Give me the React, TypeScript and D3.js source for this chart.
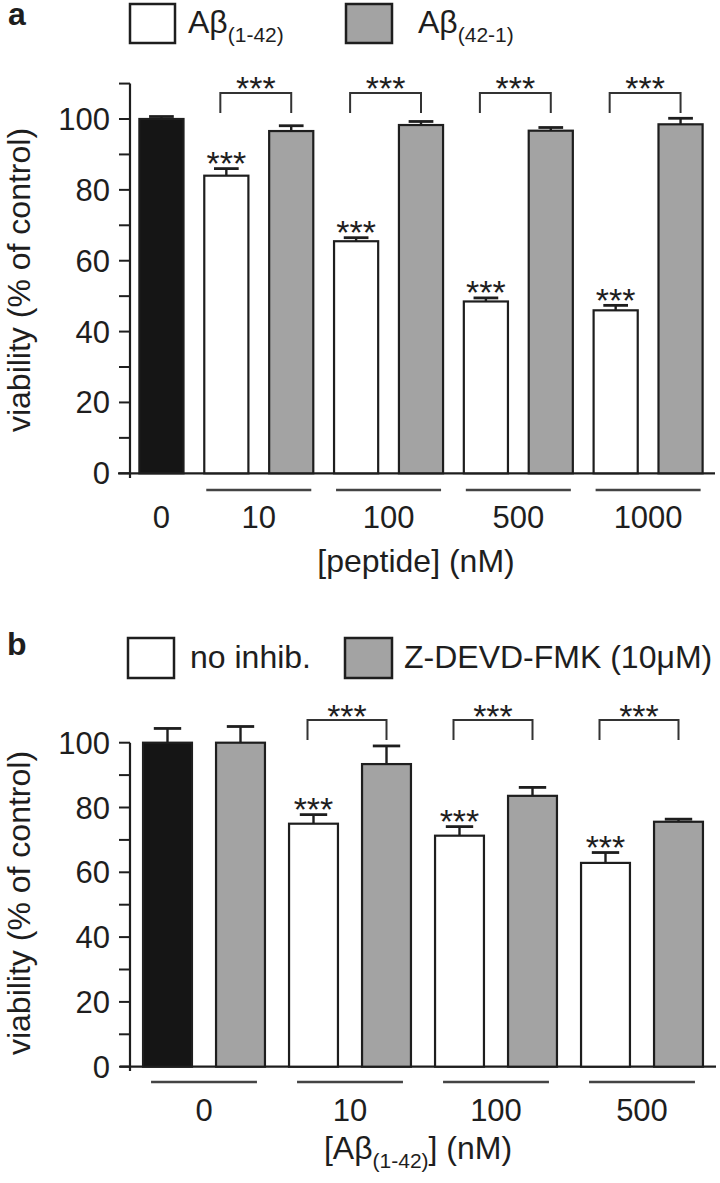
import React from 'react';
import * as d3 from 'd3';

// ---------- Panel a data ----------
const catsA = ['0', '10', '100', '500', '1000'];
const controlA = 100;
const controlSemA = 0.7;
const ab142 = [84, 65.5, 48.5, 46];
const ab142Sem = [2, 1, 1, 1.4];
const ab421 = [96.6, 98.3, 96.7, 98.5];
const ab421Sem = [1.5, 1, 0.9, 1.7];
const yTicksA = [0, 20, 40, 60, 80, 100];
const yMinorA = [10, 30, 50, 70, 90, 110];

// ---------- Panel b data ----------
const catsB = ['0', '10', '100', '500'];
const noInhib = [100, 75, 71.3, 62.9];
const noInhibSem = [4.4, 2.8, 2.8, 3.2];
const zdevd = [100, 93.4, 83.6, 75.6];
const zdevdSem = [5, 5.6, 2.6, 0.8];
const yTicksB = [0, 20, 40, 60, 80, 100];
const yMinorB = [10, 30, 50, 70, 90];

const FONT = '"Liberation Sans", Arial, Helvetica, sans-serif';
const INK = '#1e1e1e';
const GRAY = '#a3a3a3';
const BLACK = '#151515';

type Bar = { kind: 'control' | 'white' | 'gray'; v: number; sem: number; stars: boolean; group: number };

function buildA(): Bar[] {
  const bars: Bar[] = [{ kind: 'control', v: controlA, sem: controlSemA, stars: false, group: 0 }];
  ab142.forEach((v, i) => {
    bars.push({ kind: 'white', v, sem: ab142Sem[i], stars: true, group: i + 1 });
    bars.push({ kind: 'gray', v: ab421[i], sem: ab421Sem[i], stars: false, group: i + 1 });
  });
  return bars;
}

function buildB(): Bar[] {
  const bars: Bar[] = [];
  noInhib.forEach((v, i) => {
    bars.push({ kind: i === 0 ? 'control' : 'white', v, sem: noInhibSem[i], stars: i > 0, group: i });
    bars.push({ kind: 'gray', v: zdevd[i], sem: zdevdSem[i], stars: false, group: i });
  });
  return bars;
}

function fillOf(k: Bar['kind']) {
  return k === 'control' ? BLACK : k === 'gray' ? GRAY : '#ffffff';
}

function Bars({ bars, x, y }: { bars: Bar[]; x: d3.ScaleBand<number>; y: d3.ScaleLinear<number, number> }) {
  const bw = x.bandwidth();
  const cap = bw * 0.56;
  return (
    <g>
      {bars.map((b, i) => {
        const x0 = x(i) as number;
        const cx = x0 + bw / 2;
        const top = y(b.v);
        const errTop = y(b.v + b.sem);
        return (
          <g key={i}>
            <rect x={x0} y={top} width={bw} height={y(0) - top} fill={fillOf(b.kind)} stroke={INK} strokeWidth={2.2} />
            <line x1={cx} x2={cx} y1={top} y2={errTop} stroke={INK} strokeWidth={2.4} />
            <line x1={cx - cap / 2} x2={cx + cap / 2} y1={errTop} y2={errTop} stroke={INK} strokeWidth={2.8} />
            {b.stars && (
              <text x={cx} y={errTop - 13 + 19.5} textAnchor="middle" fontSize={34} fill={INK} fontFamily={FONT}>
                ***
              </text>
            )}
          </g>
        );
      })}
    </g>
  );
}

function Brackets({ bars, x, topY, legY, starY }: { bars: Bar[]; x: d3.ScaleBand<number>; topY: number; legY: number; starY: number }) {
  const bw = x.bandwidth();
  const items: JSX.Element[] = [];
  bars.forEach((b, i) => {
    if (b.kind === 'white') {
      const l = (x(i) as number) + bw / 2 - 6;
      const r = (x(i + 1) as number) + bw / 2;
      items.push(
        <g key={i}>
          <path d={`M${l},${legY}V${topY}H${r}V${legY}`} fill="none" stroke="#333" strokeWidth={2} />
          <text x={(l + r) / 2} y={starY + 19.5} textAnchor="middle" fontSize={34} fill={INK} fontFamily={FONT}>
            ***
          </text>
        </g>
      );
    }
  });
  return <g>{items}</g>;
}

function YAxis({ y, ticks, minor, axisX, top, bottom, labelY }: { y: d3.ScaleLinear<number, number>; ticks: number[]; minor: number[]; axisX: number; top: number; bottom: number; labelY: number }) {
  return (
    <g fontFamily={FONT} fill={INK}>
      <line x1={axisX} x2={axisX} y1={top} y2={bottom} stroke={INK} strokeWidth={2.2} />
      {ticks.concat(minor).map((t) => (
        <line key={'t' + t} x1={axisX - 11} x2={axisX} y1={y(t)} y2={y(t)} stroke={INK} strokeWidth={2} />
      ))}
      {ticks.map((t) => (
        <text key={'l' + t} x={axisX - 20} y={y(t) + 11} textAnchor="end" fontSize={31}>
          {t}
        </text>
      ))}
      <text transform={`translate(30,${labelY}) rotate(-90)`} textAnchor="middle" fontSize={32}>
        viability (% of control)
      </text>
    </g>
  );
}

export default function App() {
  // Panel a scales
  const barsA = buildA();
  const xA = d3.scaleBand<number>().domain(d3.range(barsA.length)).range([129, 713]).paddingInner(0.32).paddingOuter(0.16);
  const yA = d3.scaleLinear().domain([0, 100]).range([473.3, 119]);
  // Panel b scales
  const barsB = buildB();
  const xB = d3.scaleBand<number>().domain(d3.range(barsB.length)).range([131, 715]).paddingInner(0.33).paddingOuter(0.165);
  const yB = d3.scaleLinear().domain([0, 100]).range([1066.7, 742.7]);

  const groupCenter = (bars: Bar[], x: d3.ScaleBand<number>, g: number) => {
    const idx = bars.map((b, i) => (b.group === g ? i : -1)).filter((i) => i >= 0);
    const l = x(idx[0]) as number;
    const r = (x(idx[idx.length - 1]) as number) + x.bandwidth();
    return { l, r, c: (l + r) / 2 };
  };

  return (
    <svg width={720} height={1183} style={{ position: 'absolute', left: 0, top: 0, background: '#fff' }} fontFamily={FONT}>
      <rect x={0} y={0} width={720} height={1183} fill="#fff" />

      {/* ---------- Panel a ---------- */}
      <text x={8} y={25} fontSize={32} fontWeight="bold" fill={INK}>a</text>
      <rect x={130} y={4} width={45} height={39} fill="#fff" stroke={INK} strokeWidth={2.5} />
      <text x={188} y={33} fontSize={32} fill={INK}>
        Aβ<tspan fontSize={21} dy={9}>(1-42)</tspan>
      </text>
      <rect x={346} y={4} width={46} height={39} fill={GRAY} stroke={INK} strokeWidth={2.5} />
      <text x={418} y={33} fontSize={32} fill={INK}>
        Aβ<tspan fontSize={21} dy={9}>(42-1)</tspan>
      </text>

      <YAxis y={yA} ticks={yTicksA} minor={yMinorA} axisX={130} top={yA(110)} bottom={478} labelY={280} />
      <line x1={118} x2={715} y1={yA(0)} y2={yA(0)} stroke={INK} strokeWidth={2.2} />
      <Bars bars={barsA} x={xA} y={yA} />
      <Brackets bars={barsA} x={xA} topY={93} legY={113} starY={80} />
      {catsA.map((c, g) => {
        const gc = groupCenter(barsA, xA, g);
        return (
          <g key={c}>
            {g > 0 && <line x1={gc.l + 2} x2={gc.r - 2} y1={490} y2={490} stroke="#444" strokeWidth={2.6} />}
            <text x={gc.c} y={528} textAnchor="middle" fontSize={31} fill={INK}>{c}</text>
          </g>
        );
      })}
      <text x={416} y={572} textAnchor="middle" fontSize={32} fill={INK}>[peptide] (nM)</text>

      {/* ---------- Panel b ---------- */}
      <text x={7} y={655} fontSize={32} fontWeight="bold" fill={INK}>b</text>
      <rect x={128} y={638} width={46} height={40} fill="#fff" stroke={INK} strokeWidth={2.5} />
      <text x={190} y={668} fontSize={32} fill={INK}>no inhib.</text>
      <rect x={345} y={638} width={47} height={40} fill={GRAY} stroke={INK} strokeWidth={2.5} />
      <text x={404} y={668} fontSize={32} fill={INK}>Z-DEVD-FMK (10μM)</text>

      <YAxis y={yB} ticks={yTicksB} minor={yMinorB} axisX={130} top={yB(100)} bottom={1071} labelY={903} />
      <line x1={120} x2={716} y1={yB(0)} y2={yB(0)} stroke={INK} strokeWidth={2.2} />
      <Bars bars={barsB} x={xB} y={yB} />
      <Brackets bars={barsB} x={xB} topY={720} legY={740} starY={708} />
      {catsB.map((c, g) => {
        const gc = groupCenter(barsB, xB, g);
        return (
          <g key={c}>
            <line x1={gc.l + 8} x2={gc.r - 8} y1={1082} y2={1082} stroke="#444" strokeWidth={2.6} />
            <text x={gc.c} y={1121} textAnchor="middle" fontSize={31} fill={INK}>{c}</text>
          </g>
        );
      })}
      <text x={418} y={1159} textAnchor="middle" fontSize={32} fill={INK}>
        [Aβ<tspan fontSize={21} dy={9}>(1-42)</tspan><tspan dy={-9}>] (nM)</tspan>
      </text>
    </svg>
  );
}
